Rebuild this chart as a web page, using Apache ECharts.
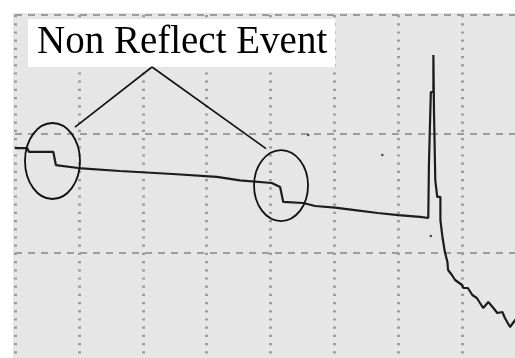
<!DOCTYPE html>
<html lang="en">
<head>
    <meta charset="UTF-8">
    <title>Non Reflect Event</title>
    <script src="https://cdn.jsdelivr.net/npm/echarts@6/dist/echarts.min.js"></script>
    <style>
        body { margin: 0; background: #fff; }
        #wrap { position: relative; width: 515px; height: 358px; overflow: hidden; }
        #plotbg { position: absolute; left: 13px; top: 13px; right: 0; bottom: 0; background: #e6e6e6; }
        /* chart is a bit larger than the window so the grid runs off the right and bottom edges */
        #chartmain { position: absolute; left: 0; top: 0; width: 540px; height: 385px; }
    </style>
</head>
<body>
<div id="wrap">
    <div id="plotbg"></div>
    <div id="chartmain"></div>
</div>
<script type="text/javascript">
    // distance (km) / level (dB) of the trace
    var traceX = [0, 0.19, 0.22, 0.6, 0.64, 0.99, 1.64, 2.47, 3.16, 3.52, 4.02, 4.15, 4.2, 4.51, 4.7, 5.01, 5.32, 5.68, 6.0, 6.34, 6.47,
        6.48, 6.51, 6.51, 6.55, 6.55, 6.56, 6.56, 6.58, 6.58, 6.61, 6.61, 6.66, 6.66, 6.69, 6.69,
        6.7, 6.73, 6.77, 6.78, 6.84, 6.89, 7.0, 7.02, 7.09, 7.16, 7.23, 7.33, 7.41, 7.49, 7.55, 7.63, 7.67, 7.75, 7.83, 7.9];
    var traceY = [18.82, 18.82, 18.49, 18.49, 17.39, 17.14, 16.89, 16.64, 16.39, 16.1, 15.88, 15.55, 14.29, 14.2, 13.95, 13.82, 13.61, 13.36, 13.19, 13.03, 12.94,
        17.31, 17.31, 23.53, 23.53, 26.64, 26.64, 21.76, 21.76, 16.13, 16.13, 14.71, 14.71, 12.77, 12.77, 11.43,
        11.34, 10.08, 9.24, 8.57, 8.15, 7.73, 7.31, 7.06, 7.06, 6.47, 6.22, 5.38, 5.88, 5.38, 4.96, 5.04, 4.54, 3.78, 4.37, 4.6];
    // stray noise points
    var noiseX = [4.59, 5.75, 6.51];
    var noiseY = [19.92, 18.24, 11.43];
    // non reflect events (ellipse centres)
    var eventX = [0.587, 4.165];
    var eventY = [17.73, 15.67];
    var labelText = 'Non Reflect Event';

    var myChart = echarts.init(document.getElementById('chartmain'));

    var traceData = traceX.map(function (x, i) { return [x, traceY[i]]; });
    var noiseData = noiseX.map(function (x, i) { return [x, noiseY[i]]; });

    var option = {
        animation: false,
        backgroundColor: 'transparent',
        title: {
            text: labelText,
            left: 28,
            top: 19,
            padding: [2, 8, 2, 9],
            backgroundColor: '#fff',
            textStyle: {
                fontFamily: '"Liberation Serif", "DejaVu Serif", serif',
                fontSize: 39,
                lineHeight: 44,
                fontWeight: 'normal',
                color: '#000'
            }
        },
        grid: { left: 15, top: 15, width: 511, height: 357 },
        xAxis: {
            type: 'value', min: 0, max: 8, interval: 1,
            axisLine: { show: false }, axisTick: { show: false }, axisLabel: { show: false },
            splitLine: { show: true, lineStyle: { color: '#9c9c9c', width: 3, type: [2.2, 6] } }
        },
        yAxis: {
            type: 'value', min: 0, max: 30, interval: 10,
            axisLine: { show: false }, axisTick: { show: false }, axisLabel: { show: false },
            splitLine: { show: true, lineStyle: { color: '#9c9c9c', width: 2, type: [7, 6] } }
        },
        series: [
            {
                type: 'line',
                data: traceData,
                showSymbol: false,
                lineStyle: { color: '#1c1c1c', width: 2.2 }
            },
            {
                type: 'scatter',
                data: noiseData,
                symbolSize: 2.5,
                itemStyle: { color: '#222' }
            }
        ]
    };
    myChart.setOption(option);

    // annotations anchored on the event positions
    var c1 = myChart.convertToPixel({ gridIndex: 0 }, [eventX[0], eventY[0]]);
    var c2 = myChart.convertToPixel({ gridIndex: 0 }, [eventX[1], eventY[1]]);
    var apex = [152, 67];
    myChart.setOption({
        graphic: [
            { type: 'ellipse', shape: { cx: c1[0], cy: c1[1], rx: 27.5, ry: 38 },
                style: { fill: 'none', stroke: '#111', lineWidth: 1.8 }, z: 100 },
            { type: 'ellipse', shape: { cx: c2[0], cy: c2[1], rx: 27, ry: 35.5 },
                style: { fill: 'none', stroke: '#111', lineWidth: 1.8 }, z: 100 },
            { type: 'line', shape: { x1: apex[0], y1: apex[1], x2: c1[0] + 22.5, y2: c1[1] - 34 },
                style: { stroke: '#111', lineWidth: 1.6 }, z: 100 },
            { type: 'line', shape: { x1: apex[0], y1: apex[1], x2: c2[0] - 15, y2: c2[1] - 37 },
                style: { stroke: '#111', lineWidth: 1.6 }, z: 100 }
        ]
    });
</script>
</body>
</html>
